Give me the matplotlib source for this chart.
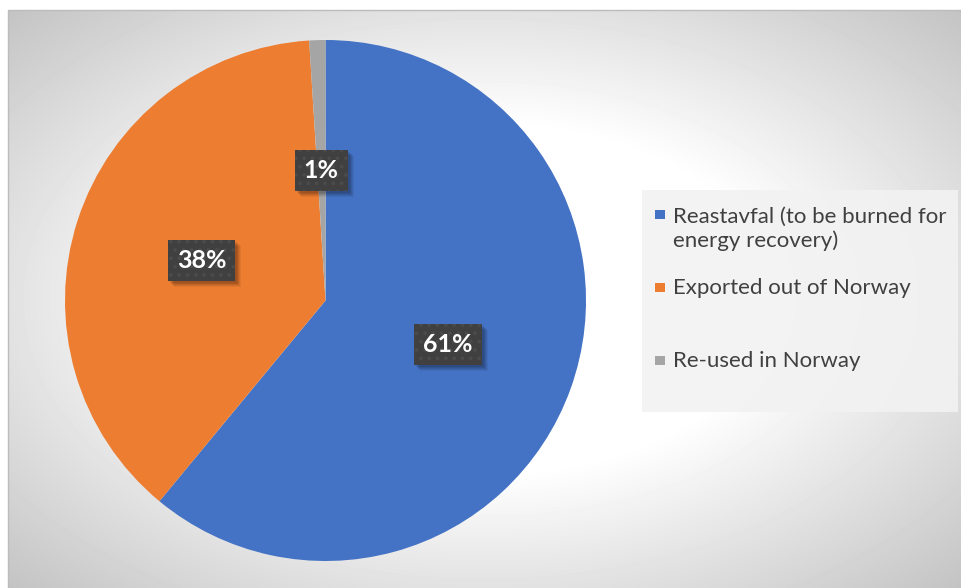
import numpy as np
import matplotlib
matplotlib.use("Agg")
import matplotlib.pyplot as plt
from matplotlib.patches import Rectangle
from matplotlib.transforms import IdentityTransform

# waste fractions
labels = ["Reastavfal (to be burned for\nenergy recovery)",
          "Exported out of Norway",
          "Re-used in Norway"]
shares = [61, 38, 1]
colors = ["#4472C4", "#ED7D31", "#A5A5A5"]

W, H = 961, 588
fig = plt.figure(figsize=(W / 100, H / 100), dpi=100)
fig.patch.set_facecolor("white")
plt.rcParams["hatch.linewidth"] = 1.5

# background layer, pixel coordinates with y pointing down
bg = fig.add_axes([0, 0, 1, 1])
x0, y0 = 8, 10
xx, yy = np.meshgrid(np.arange(x0, W) + 0.5, np.arange(y0, H) + 0.5)
u = (xx - 484) / (W - x0)
v = (yy - 299) / (H - y0)
r = np.hypot(u, v)
shade = np.clip(255 - 147 * np.clip(r - 0.3, 0, None), 0, 255) / 255
bg.imshow(shade, cmap="gray", vmin=0, vmax=1, extent=(x0, W, H, y0),
          interpolation="bilinear", aspect="auto")
bg.set_xlim(0, W)
bg.set_ylim(H, 0)
bg.axis("off")
bg.add_patch(Rectangle((x0 - 0.5, y0 - 0.5), W, H, fill=False,
                       ec="#bcbcbc", lw=1))

# legend panel
bg.add_patch(Rectangle((642, 190), 316, 222, fc="#f2f2f2", ec="none", alpha=0.9))
legend_y = [228, 287, 360]
for lab, col, ly in zip(labels, colors, legend_y):
    top = ly - 14 if "\n" in lab else ly
    bg.add_patch(Rectangle((655, top - 4.5), 9.5, 9.5, fc=col, ec="none"))
    bg.text(673, ly + 1, lab, fontsize=16, color="#404040", va="center",
            ha="left", family="Lato", linespacing=1.25)

# pie
ax = fig.add_axes([65 / W, 27 / H, 521 / W, 521 / H])
wedges, texts, autotexts = ax.pie(
    shares, colors=colors, startangle=90, counterclock=False, radius=1,
    autopct=lambda p: f"{p:.0f}%", pctdistance=0.5,
    textprops=dict(color="white", fontsize=18, fontweight="bold", family="Lato",
                   zorder=5))
ax.set_xlim(-1, 1)
ax.set_ylim(-1, 1)

for t in autotexts:
    t.set_bbox(dict(boxstyle="square,pad=0.36", fc="#404040", ec="#4b4b4b",
                    lw=0, hatch=".."))

# soft drop shadow under each label box: faint copies shifted down-right
fig.canvas.draw()
for t in autotexts:
    box = t.get_bbox_patch().get_window_extent()
    for d, a in [(6, 0.05), (5, 0.07), (4, 0.08), (3, 0.09), (2, 0.08)]:
        ax.add_patch(Rectangle((box.x0 + d, box.y0 - d), box.width, box.height,
                               transform=IdentityTransform(), fc="black",
                               ec="none", alpha=a, zorder=4, clip_on=False))

fig.savefig("out.png", dpi=100)
